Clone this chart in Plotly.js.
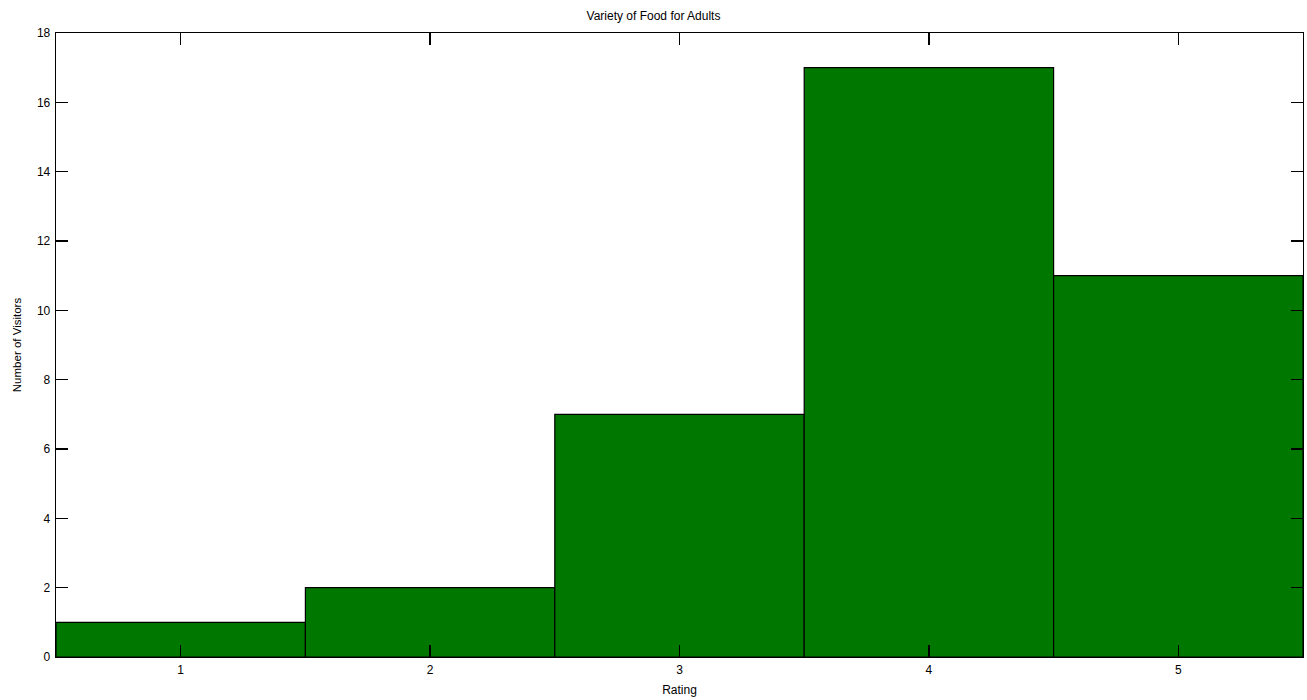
<!DOCTYPE html>
<html>
<head>
<meta charset="utf-8">
<script src="https://cdn.plot.ly/plotly-3.0.1.min.js"></script>
<style>html,body{margin:0;padding:0;background:#fff;}#chart{width:1307px;height:700px;}</style>
</head>
<body>
<div id="chart"></div>
<script>
const ratings = [1, 2, 3, 4, 5];
const visitors = [1, 2, 7, 17, 11];
const yTicks = [0, 2, 4, 6, 8, 10, 12, 14, 16, 18];
const titleText = 'Variety of Food for Adults';
const xTitle = 'Rating';
const yTitle = 'Number of Visitors';

const font = {family: '"Liberation Sans Narrow", "Arial Narrow", "Liberation Sans", Arial, sans-serif', size: 12, color: '#000'};

const trace = {
  type: 'bar',
  x: ratings,
  y: visitors,
  width: 1,
  marker: {color: '#007800', line: {color: '#000', width: 1.2}},
  hoverinfo: 'skip'
};

const axisCommon = {
  showgrid: false,
  zeroline: false,
  showline: true,
  linecolor: '#000',
  linewidth: 1.3,
  mirror: 'ticks',
  ticks: 'inside',
  ticklen: 12,
  tickwidth: 1.3,
  tickcolor: '#000',
  tickfont: font
};

const layout = {
  width: 1307,
  height: 700,
  margin: {l: 56, r: 4, t: 33, b: 43},
  paper_bgcolor: '#fff',
  plot_bgcolor: '#fff',
  font: font,
  showlegend: false,
  bargap: 0,
  title: {text: titleText, font: font, x: 0.5, xanchor: 'center', y: 0.977, yanchor: 'middle'},
  xaxis: Object.assign({}, axisCommon, {
    range: [0.5, 5.5],
    tickvals: ratings,
    ticktext: ratings.map(String),
    ticklabelstandoff: 1,
    title: {text: xTitle, font: font, standoff: 10}
  }),
  yaxis: Object.assign({}, axisCommon, {
    range: [0, 18],
    tickvals: yTicks,
    ticktext: yTicks.map(String),
    ticklabelstandoff: 2,
    title: {text: yTitle, font: Object.assign({}, font, {size: 11.5}), standoff: 13}
  })
};

Plotly.newPlot('chart', [trace], layout, {displayModeBar: false, staticPlot: true});
</script>
</body>
</html>
